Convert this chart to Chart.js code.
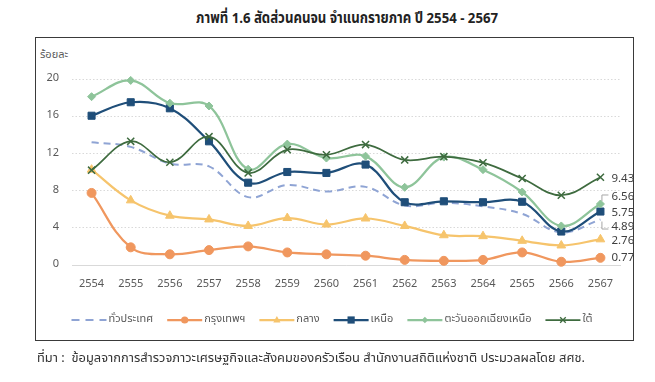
<!DOCTYPE html>
<html><head><meta charset="utf-8">
<script src="https://cdn.jsdelivr.net/npm/chart.js@4.4.1/dist/chart.umd.min.js"></script>
<style>
html,body{margin:0;padding:0;background:#fff;width:655px;height:382px;overflow:hidden;}
#wrap{position:relative;width:655px;height:382px;font-family:Tahoma,"Noto Sans Thai","Leelawadee UI",Garuda,Loma,"Liberation Sans",sans-serif;}
#box{position:absolute;left:35px;top:37px;width:599px;height:304px;border:1.5px solid #3a3a3a;box-sizing:border-box;}
#chart{position:absolute;left:0;top:0;}
#title{position:absolute;top:7px;left:196px;font-weight:bold;font-size:15px;color:#222;white-space:nowrap;transform-origin:0 0;}
#unit{position:absolute;left:40px;top:46px;font-size:11px;color:#595959;}
#src{position:absolute;left:37px;top:348px;font-size:13px;color:#333;white-space:nowrap;transform-origin:0 0;}
</style></head>
<body><div id="wrap">
<div id="title">ภาพที่ 1.6 สัดส่วนคนจน จำแนกรายภาค ปี 2554 - 2567</div>
<div id="box"></div>
<div id="unit">ร้อยละ</div>
<canvas id="chart" width="655" height="382"></canvas>
<div id="src">ที่มา :&nbsp;&nbsp;ข้อมูลจากการสำรวจภาวะเศรษฐกิจและสังคมของครัวเรือน สำนักงานสถิติแห่งชาติ ประมวลผลโดย สศช.</div>
</div>
<script>
const years = ['2554','2555','2556','2557','2558','2559','2560','2561','2562','2563','2564','2565','2566','2567'];
const seriesNames = ['ทั่วประเทศ','กรุงเทพฯ','กลาง','เหนือ','ตะวันออกเฉียงเหนือ','ใต้'];
const wholeKingdom = [13.2, 12.7, 10.9, 10.6, 7.3, 8.6, 7.9, 8.4, 6.4, 6.7, 6.3, 5.5, 3.5, 4.89];
const bangkok      = [7.75, 1.9, 1.15, 1.6, 2.0, 1.35, 1.15, 1.0, 0.55, 0.45, 0.55, 1.35, 0.35, 0.77];
const central      = [10.25, 6.95, 5.3, 4.9, 4.2, 5.05, 4.35, 5.0, 4.2, 3.2, 3.1, 2.6, 2.1, 2.76];
const north        = [16.05, 17.5, 16.85, 13.3, 8.85, 10.0, 9.9, 10.8, 6.75, 6.85, 6.75, 6.8, 3.6, 5.75];
const northeast    = [18.1, 19.85, 17.4, 17.1, 10.3, 13.0, 11.5, 11.7, 8.35, 11.6, 10.25, 7.85, 4.2, 6.56];
const south        = [10.2, 13.3, 11.05, 13.8, 9.9, 12.4, 11.85, 12.95, 11.3, 11.65, 11.0, 9.3, 7.5, 9.43];
const yTicks = [0, 4, 8, 12, 16, 20];

const FONT = 'Tahoma,"Noto Sans Thai","Leelawadee UI",Garuda,Loma,"Liberation Sans",sans-serif';

// fit the condensed-looking headings to the reference widths
function fitWidth(id, target){
  const el = document.getElementById(id);
  const w = el.getBoundingClientRect().width;
  if (w > 0) el.style.transform = 'scaleX(' + (target / w) + ')';
}
fitWidth('title', 302);
fitWidth('src', 548);

const styles = [
  {color:'#8FA4D4', style:false, radius:0, dash:[7,5], width:2},
  {color:'#F0975E', style:'circle', radius:4.5, dash:[], width:2.25},
  {color:'#F6C46C', style:'triangle', radius:5, dash:[], width:2.25},
  {color:'#1F4E79', style:'rect', radius:5, dash:[], width:2.25},
  {color:'#8EC49A', style:'rectRot', radius:4, dash:[], width:2.25},
  {color:'#3E6B3F', style:'crossRot', radius:5, dash:[], width:1.75}
];
const seriesData = [wholeKingdom, bangkok, central, north, northeast, south];

const datasets = seriesData.map((d,i)=>({
  label: seriesNames[i],
  data: d,
  borderColor: styles[i].color,
  backgroundColor: styles[i].color,
  borderWidth: styles[i].width,
  borderDash: styles[i].dash,
  pointStyle: styles[i].style,
  pointRadius: styles[i].radius,
  pointHoverRadius: styles[i].radius,
  pointBorderWidth: styles[i].style==='crossRot' ? 1.5 : 1,
  tension: 0.38,
  order: 5 - i,
  clip: false
}));

// pixel offsets for end labels (style only)
const endLabelOffsets = [8.5, 1, 2.5, 2, -6.5, 2];
const leaderLines = {0: 'down', 4: 'up'};

function drawMarker(ctx, style, r, x, y, color){
  ctx.save();
  ctx.fillStyle = color; ctx.strokeStyle = color; ctx.lineWidth = 1.3; ctx.setLineDash([]);
  ctx.beginPath();
  if(style==='circle'){ ctx.arc(x,y,r,0,Math.PI*2); ctx.fill(); }
  else if(style==='rect'){ ctx.fillRect(x-r*0.9,y-r*0.9,r*1.8,r*1.8); }
  else if(style==='rectRot'){ ctx.moveTo(x,y-r); ctx.lineTo(x+r,y); ctx.lineTo(x,y+r); ctx.lineTo(x-r,y); ctx.closePath(); ctx.fill(); }
  else if(style==='triangle'){ ctx.moveTo(x,y-r); ctx.lineTo(x+r*0.9,y+r*0.6); ctx.lineTo(x-r*0.9,y+r*0.6); ctx.closePath(); ctx.fill(); }
  else if(style==='crossRot'){ const k=r*0.7; ctx.moveTo(x-k,y-k); ctx.lineTo(x+k,y+k); ctx.moveTo(x+k,y-k); ctx.lineTo(x-k,y+k); ctx.stroke(); }
  ctx.restore();
}

const extras = {
  id: 'extras',
  afterDatasetsDraw(chart){
    const ctx = chart.ctx;
    // end labels
    ctx.save();
    ctx.font = '11.5px ' + FONT;
    ctx.fillStyle = '#404040';
    ctx.textBaseline = 'middle';
    ctx.textAlign = 'left';
    chart.data.datasets.forEach((ds, i)=>{
      const meta = chart.getDatasetMeta(i);
      const pt = meta.data[meta.data.length-1];
      const v = ds.data[ds.data.length-1];
      const ly = pt.y + endLabelOffsets[i];
      ctx.fillText(v.toFixed(2), pt.x + 11, ly);
      if(leaderLines[i]){
        ctx.save();
        ctx.strokeStyle = '#A6A6A6'; ctx.lineWidth = 1; ctx.setLineDash([]);
        ctx.beginPath();
        if(leaderLines[i]==='up'){
          ctx.moveTo(pt.x+1.5, pt.y-3); ctx.lineTo(pt.x+1.5, ly-2.5); ctx.lineTo(pt.x+8, ly-2.5);
        } else {
          ctx.moveTo(pt.x+1.5, pt.y+2); ctx.lineTo(pt.x+1.5, ly+1); ctx.lineTo(pt.x+8, ly+1);
        }
        ctx.stroke();
        ctx.restore();
      }
    });
    ctx.restore();

    // legend
    ctx.save();
    ctx.font = '11px ' + FONT;
    ctx.textBaseline = 'middle';
    const lineLen = 35, gapT = 2, gapI = 14, ly = 320;
    const items = chart.data.datasets.map((ds,i)=>({ds, i, w: lineLen + gapT + ctx.measureText(ds.label).width}));
    const total = items.reduce((a,b)=>a+b.w,0) + gapI*(items.length-1);
    let x = 332 - total/2;
    items.forEach(it=>{
      const ds = it.ds, st = styles[it.i];
      ctx.save();
      ctx.strokeStyle = ds.borderColor; ctx.lineWidth = st.width;
      ctx.setLineDash(st.dash.length ? [8,6] : []);
      ctx.beginPath(); ctx.moveTo(x, ly); ctx.lineTo(x+lineLen, ly); ctx.stroke();
      ctx.restore();
      if(st.style) drawMarker(ctx, st.style, st.radius*0.8, x+lineLen/2, ly, ds.borderColor);
      ctx.fillStyle = '#595959';
      ctx.textAlign = 'left';
      ctx.fillText(ds.label, x + lineLen + gapT, ly);
      x += it.w + gapI;
    });
    ctx.restore();
  }
};

new Chart(document.getElementById('chart'), {
  type: 'line',
  data: { labels: years, datasets },
  plugins: [extras],
  options: {
    responsive: false,
    animation: false,
    events: [],
    layout: { padding: { left: 36, right: 35, top: 79, bottom: 87 } },
    plugins: { legend: { display: false }, tooltip: { enabled: false } },
    scales: {
      x: {
        offset: true,
        grid: { display: false, drawTicks: false },
        border: { display: true, color: '#D9D9D9', width: 1 },
        ticks: { padding: 13, color: '#595959', font: { size: 11, family: FONT }, maxRotation: 0 },
        afterFit(s){ s.height = 30; }
      },
      y: {
        min: 0, max: 20,
        afterBuildTicks(s){ s.ticks = yTicks.map(v=>({value:v})); },
        grid: { color: '#D9D9D9', drawTicks: false, lineWidth: 1 },
        border: { display: false, dash: [1.5,2] },
        ticks: { padding: 13, color: '#595959', font: { size: 11, family: FONT } },
        afterFit(s){ s.width = 36; }
      }
    }
  }
});
</script>
</body></html>
